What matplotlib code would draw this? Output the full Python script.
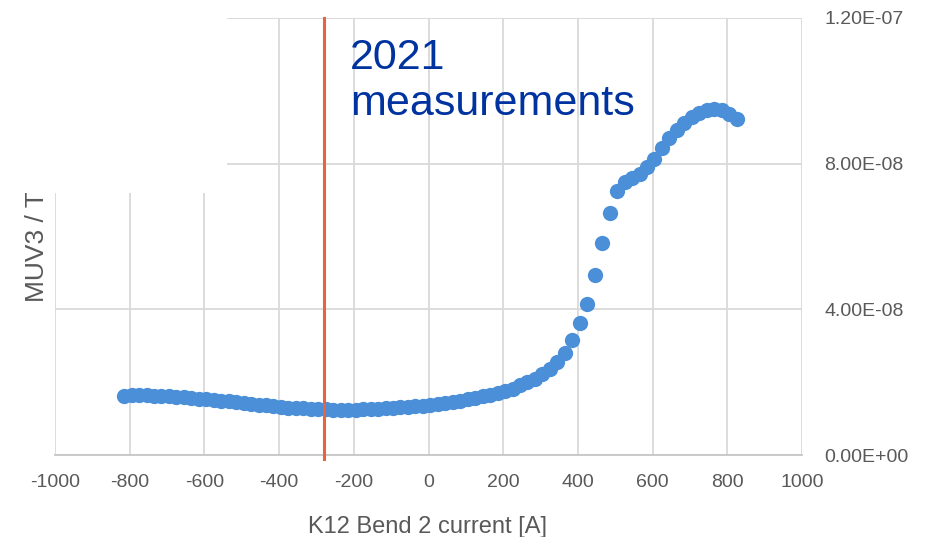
import matplotlib
matplotlib.use("Agg")
import matplotlib.pyplot as plt
from matplotlib.patches import Rectangle

# bend current [A] and MUV3 / T10 ratio
current = [-815, -795, -775, -755, -735, -715, -695, -675, -655, -635,
           -615, -595, -575, -555, -535, -515, -495, -475, -455, -435,
           -415, -395, -375, -355, -335, -315, -295, -275, -255, -235,
           -215, -195, -175, -155, -135, -115, -95, -75, -55, -35,
           -15, 5, 25, 45, 65, 85, 105, 125, 145, 165,
           185, 205, 225, 245, 265, 285, 305, 325, 345, 365,
           385, 405, 425, 445, 465, 485, 505, 525, 545, 565,
           585, 605, 625, 645, 665, 685, 705, 725, 745, 765,
           785, 805, 825]
ratio = [1.63, 1.66, 1.66, 1.65, 1.63, 1.62, 1.61, 1.60, 1.59, 1.57,
         1.55, 1.53, 1.51, 1.49, 1.47, 1.45, 1.43, 1.41, 1.38, 1.36,
         1.34, 1.32, 1.30, 1.29, 1.28, 1.27, 1.26, 1.25, 1.24, 1.24,
         1.24, 1.24, 1.25, 1.26, 1.27, 1.29, 1.30, 1.31, 1.33, 1.34,
         1.35, 1.37, 1.39, 1.42, 1.45, 1.49, 1.53, 1.57, 1.61, 1.65,
         1.70, 1.75, 1.82, 1.91, 2.00, 2.10, 2.22, 2.37, 2.55, 2.80,
         3.15, 3.62, 4.16, 4.93, 5.82, 6.65, 7.26, 7.50, 7.60, 7.72,
         7.90, 8.12, 8.42, 8.70, 8.93, 9.12, 9.28, 9.40, 9.48, 9.50,
         9.46, 9.37, 9.22]
ratio = [v * 1e-8 for v in ratio]

x_ticks = [-1000, -800, -600, -400, -200, 0, 200, 400, 600, 800, 1000]
y_ticks = [0, 4e-8, 8e-8, 1.2e-7]
y_tick_labels = ["0.00E+00", "4.00E-08", "8.00E-08", "1.20E-07"]
marker_current = -280

W, H = 935, 537
plt.rcParams['font.family'] = ['Liberation Sans', 'DejaVu Sans']
plt.rcParams['axes.unicode_minus'] = False
grey = '#595959'

fig = plt.figure(figsize=(W / 100, H / 100), dpi=100)
ax = fig.add_axes([55 / W, 1 - 455 / H, 747 / W, 437 / H])

ax.plot(current, ratio, 'o', ms=11, color='#4A8FD8', mew=0, zorder=3)
ax.plot([marker_current, marker_current], [-1.2e-9, 1.2e-7], color='#E8643C',
        lw=2.2, clip_on=False, zorder=4)

ax.set_xlim(-1000, 1000)
ax.set_ylim(0, 1.2e-7)
ax.set_xticks(x_ticks)
ax.set_yticks(y_ticks)
ax.set_yticklabels(y_tick_labels)
ax.yaxis.tick_right()
ax.tick_params(length=0, labelsize=14, labelcolor=grey)
ax.tick_params(axis='x', pad=14)
ax.tick_params(axis='y', pad=16)
ax.grid(True, color='#D9D9D9', lw=1.3)
ax.set_axisbelow(True)
for s in ['top', 'left', 'right']:
    ax.spines[s].set_visible(False)
ax.spines['bottom'].set_color('#C6C6C6')
ax.spines['bottom'].set_linewidth(1.3)

fig.text(428 / W, 1 - 533 / H, "K12 Bend 2 current [A]", ha='center', va='baseline',
         fontsize=17, color=grey)
fig.text(37 / W, 1 - 302 / H, "MUV3 / T10", rotation=90, ha='center', va='bottom',
         fontsize=19, color=grey)

# baseline of the last line sits at 115 px
fig.text(350 / W, 1 - 115 / H, "2021\nmeasurements", ha='left', va='baseline',
         fontsize=31, color='#0033A0')

# white patch over the top-left corner, as in the pasted slide
fig.patches.append(Rectangle((0, 1 - 193 / H), 227 / W, 193 / H, transform=fig.transFigure,
                             facecolor='white', edgecolor='none', zorder=10))

fig.savefig("out.png", dpi=100)
